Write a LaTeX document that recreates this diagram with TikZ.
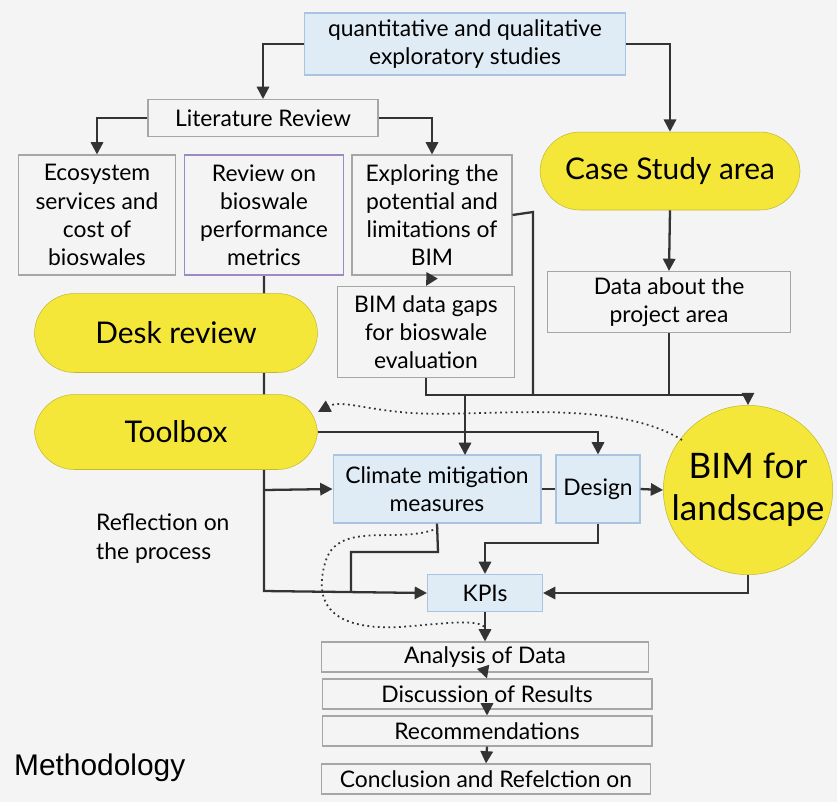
\documentclass[tikz,border=0pt]{standalone}
\usepackage{fontspec}
\setmainfont{Lato}
\newfontfamily\arialfont{Liberation Sans}
\usetikzlibrary{arrows.meta,backgrounds,shapes.geometric}
\definecolor{bg}{HTML}{F4F4F4}
\definecolor{ln}{HTML}{333333}
\definecolor{yel}{HTML}{F4E73A}
\definecolor{bluefill}{HTML}{DFECF6}
\definecolor{blueline}{HTML}{A9C4E0}
\tikzset{
  box/.style={draw=gray!70,fill=bg,line width=.6pt,align=center,inner sep=1pt,
    font=\fontsize{13}{16}\selectfont},
  bbox/.style={box,draw=blueline,fill=bluefill},
  pill/.style={fill=yel,draw=yel!80!black,line width=.3pt,rounded corners=.8cm,
    font=\fontsize{17}{20}\selectfont},
  conn/.style={draw=ln,line width=1.3pt,>={Triangle[length=7pt,width=7pt]}},
  dots/.style={draw=ln,line width=1pt,dotted,>={Triangle[length=7pt,width=7pt]}},
}
\begin{document}
\begin{tikzpicture}[x=0.02cm,y=-0.02cm]
  % top level
  \node (quant) [bbox,minimum width=6.42cm,minimum height=1.24cm] at (465,44)
    {quantitative and qualitative\\exploratory studies};
  \node (lit) [box,minimum width=4.6cm,minimum height=.74cm] at (263,118) {Literature Review};
  \node (eco) [box,minimum width=3.14cm,minimum height=2.4cm] at (97,215)
    {Ecosystem\\services and\\cost of\\bioswales};
  \node (rev) [box,draw=blueline!70!violet,minimum width=3.18cm,minimum height=2.4cm] at (264,215)
    {Review on\\bioswale\\performance\\metrics};
  \node (exp) [box,minimum width=3.2cm,minimum height=2.4cm] at (432,215)
    {Exploring the\\potential and\\limitations of\\BIM};
  \node (case) [pill,minimum width=5.2cm,minimum height=1.56cm] at (670,171) {Case Study area};
  \node (data) [box,minimum width=4.86cm,minimum height=1.22cm] at (669,302)
    {Data about the\\project area};
  \node (gaps) [box,minimum width=3.54cm,minimum height=1.82cm] at (426,332)
    {BIM data gaps\\for bioswale\\evaluation};
  % middle
  \node (desk) [pill,minimum width=5.66cm,minimum height=1.58cm] at (176,333) {Desk review};
  \node (tool) [pill,minimum width=5.66cm,minimum height=1.5cm] at (176,432) {Toolbox};
  \node (clim) [bbox,minimum width=4.16cm,minimum height=1.36cm] at (437,489)
    {Climate mitigation\\measures};
  \node (des) [bbox,minimum width=1.68cm,minimum height=1.36cm] at (598,489) {Design};
  \node (bim) [circle,fill=yel,draw=yel!80!black,line width=.3pt,minimum size=3.3cm,
    inner sep=0pt,align=center,font=\fontsize{20}{24}\selectfont] at (748,490) {BIM for\\landscape};
  \node (kpi) [bbox,minimum width=2.3cm,minimum height=.74cm] at (485,593) {KPIs};
  \node (refl) [align=left,anchor=north west,font=\fontsize{13}{16}\selectfont] at (90,508)
    {Reflection on\\the process};
  % bottom column
  \node (ana) [box,minimum width=6.54cm,minimum height=.6cm] at (485,657) {Analysis of Data};
  \node (disc) [box,minimum width=6.6cm,minimum height=.6cm] at (487,694) {Discussion of Results};
  \node (rec) [box,minimum width=6.6cm,minimum height=.6cm] at (487,731) {Recommendations};
  \node (conc) [box,minimum width=6.58cm,minimum height=.6cm] at (486,779)
    {Conclusion and Refelction on};
  \node (meth) [anchor=west,font=\arialfont\fontsize{17}{20}\selectfont] at (8,768) {Methodology};
  % connectors
  \begin{scope}[on background layer]
    \fill[bg] (0,0) rectangle (837,802);
    \draw[conn,->] (rev.south) -- (264,591) -- (kpi.west);
    \draw[conn,->] (264,490) -- (clim.west);
  \end{scope}
  \draw[conn,->] (quant.west) -| (lit.north);
  \draw[conn,->] (quant.east) -| (case.north);
  \draw[conn,->] (lit.west) -| (eco.north);
  \draw[conn,->] (lit.east) -| (exp.north);
  \draw[conn,->] (exp.south) -- (gaps.north);
  \draw[conn,->] (case.south) -- (data.north);
  \draw[conn] (exp.east) -- (533,212) -- (533,395);
  \draw[conn] (data.south) -- (669,395);
  \draw[conn,->] (gaps.south) -- (426,395) -| (bim.north);
  \draw[conn,->] (465,395) -- (465,455);
  \draw[conn,->] (tool.east) -| (des.north);
  \draw[conn] (clim.east) -- (des.west);
  \draw[conn,->] (des.east) -- (bim.west);
  \draw[conn] (clim.south) -- (438,552) -- (351,552) -- (351,591);
  \draw[conn,->] (des.south) -- (598,543) -| (kpi.north);
  \draw[conn,->] (bim.south) |- (kpi.east);
  \draw[conn,->] (kpi.south) -- (ana.north);
  \draw[conn,->] (ana.south) -- (disc.north);
  \draw[conn,->] (disc.south) -- (rec.north);
  \draw[conn,->] (rec.south) -- (conc.north);
  \draw[dots,->] (682,440) .. controls (610,395) and (470,420) .. (400,412)
    .. controls (360,408) and (340,400) .. (318,412);
  \draw[dots] (438,528) .. controls (400,545) and (340,520) .. (326,560)
    .. controls (310,610) and (340,630) .. (400,627)
    .. controls (440,624) and (480,618) .. (485,628);
\end{tikzpicture}
\end{document}
